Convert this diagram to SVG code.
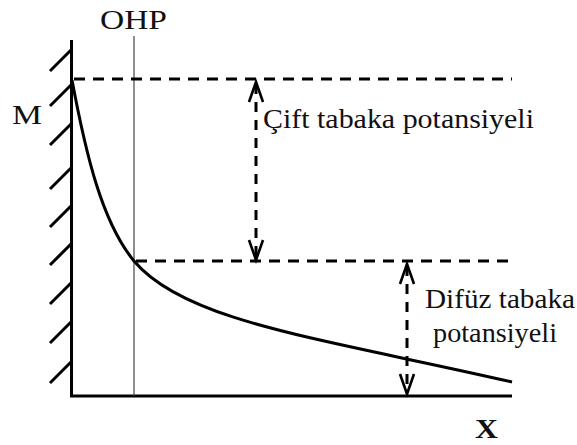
<svg xmlns="http://www.w3.org/2000/svg" width="577" height="445" viewBox="0 0 577 445">
<style>
.thick{stroke:#000;stroke-width:3;fill:none}
.dash{stroke:#000;stroke-width:3;fill:none;stroke-dasharray:11 8}
.vdash{stroke:#000;stroke-width:3;fill:none;stroke-dasharray:10 8}
.head{stroke:#000;stroke-width:2.6;fill:none;stroke-linejoin:miter}
text{font-family:'Liberation Serif','DejaVu Serif','Times New Roman',serif;font-size:28px;fill:#111}
</style>
<rect width="577" height="445" fill="#fff"/>
<g id="wall">
<line class="thick" x1="71.5" y1="40" x2="71.5" y2="397"/>
<path class="thick" d="M50,71 L71,50 M50,106 L71,85 M50,145 L71,124 M50,189 L71,168 M50,227 L71,206 M50,265 L71,244 M50,304 L71,283 M50,343 L71,322 M50,383 L71,362"/>
</g>
<g id="axis">
<line class="thick" x1="70" y1="396" x2="512" y2="396"/>
<text x="475" y="438" font-weight="bold" textLength="23" lengthAdjust="spacingAndGlyphs">X</text>
</g>
<g id="ohp">
<line x1="134" y1="36" x2="134" y2="396" stroke="#444" stroke-width="1.2"/>
<text x="100" y="29" textLength="67" lengthAdjust="spacingAndGlyphs">OHP</text>
</g>
<g id="m-label">
<text x="12" y="124" textLength="30" lengthAdjust="spacingAndGlyphs">M</text>
</g>
<g id="levels">
<line class="dash" x1="74" y1="79" x2="512" y2="79"/>
<line class="dash" x1="136" y1="261" x2="512" y2="261"/>
</g>
<g id="curve">
<path class="thick" d="M72,80 C86,155 102,222 134,261 C185,322 320,338 512,382"/>
</g>
<g id="connectors">
<line class="vdash" x1="256" y1="84" x2="256" y2="258"/>
<path class="head" d="M249,102 L256,82 L263,102 M249,240 L256,260 L263,240"/>
<line class="vdash" x1="407" y1="266" x2="407" y2="392"/>
<path class="head" d="M400,284 L407,264 L414,284 M400,374 L407,394 L414,374"/>
</g>
<g id="label-cift">
<text x="263" y="128" textLength="271" lengthAdjust="spacingAndGlyphs">Çift tabaka potansiyeli</text>
</g>
<g id="label-difuz">
<text x="425" y="308" textLength="150" lengthAdjust="spacingAndGlyphs">Difüz tabaka</text>
<text x="433" y="342" textLength="124" lengthAdjust="spacingAndGlyphs">potansiyeli</text>
</g>
</svg>
